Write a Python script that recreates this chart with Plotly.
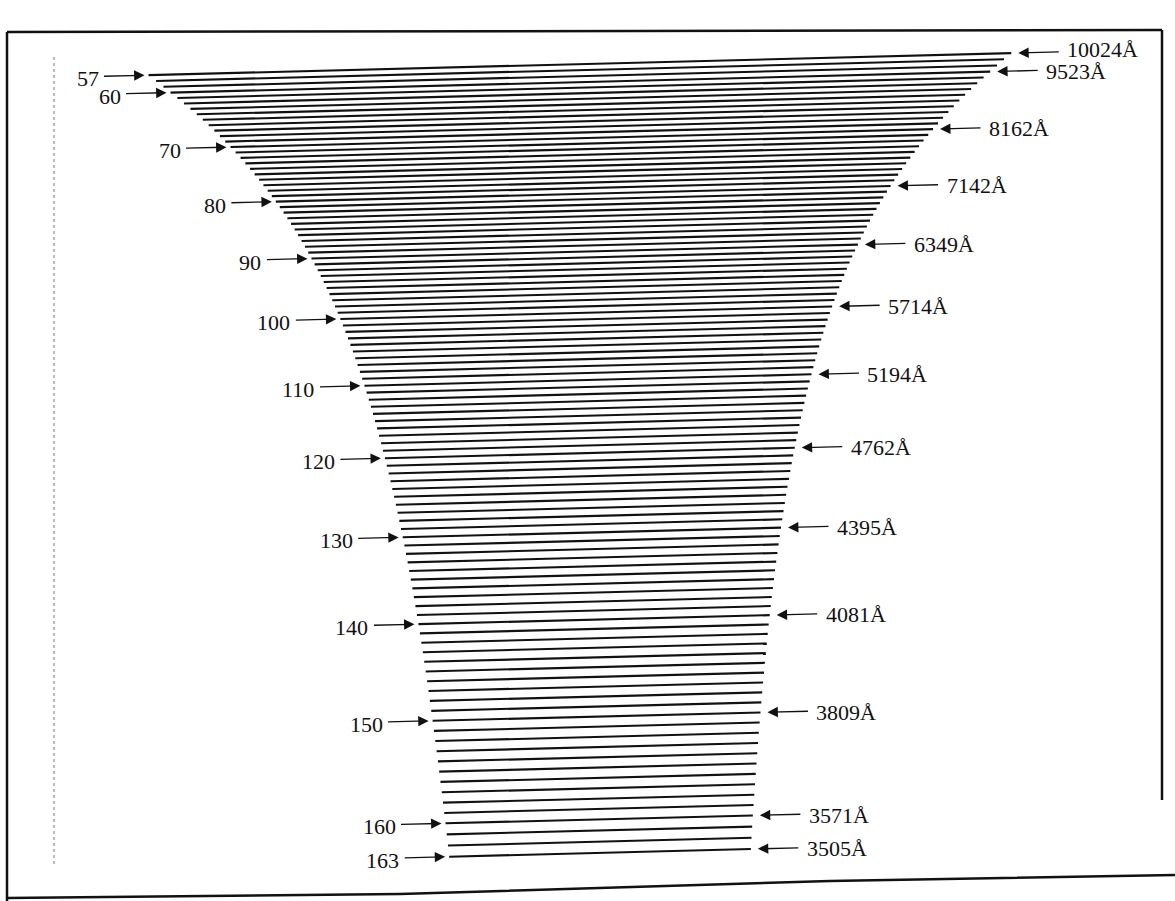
import math
import plotly.graph_objects as go

# ---------------- data ----------------
# echelle orders shown in the format diagram
orders = list(range(57, 164))
# cross-dispersion position of each order (one per order)
order_cross_position = [
    64.0, 70.0, 76.0, 82.0,
    87.6, 93.2, 98.8, 104.4, 110.0, 115.6, 121.2, 126.8, 132.4, 138.0,
    143.6, 149.1, 154.7, 160.3, 165.9, 171.4, 177.0, 182.6, 188.1, 193.7,
    199.3, 204.9, 210.6, 216.3, 222.0, 227.8, 233.7, 239.6, 245.5, 251.5,
    257.4, 263.3, 269.2, 275.3, 281.4, 287.5, 293.7, 300.0, 306.3, 312.7,
    319.2, 325.7, 332.2, 338.8, 345.5, 352.3, 359.1, 366.0, 372.9, 380.0,
    387.0, 394.1, 401.2, 408.4, 415.7, 423.0, 430.4, 437.9, 445.4, 453.0,
    460.6, 468.3, 476.1, 483.9, 491.8, 499.8, 507.9, 516.0, 524.2, 532.5,
    540.8, 549.2, 557.7, 566.3, 575.0, 583.8, 592.6, 601.6, 610.6, 619.7,
    629.0, 638.4, 647.9, 657.5, 667.2, 677.0, 686.8, 696.7, 706.7, 716.7,
    726.8, 737.0, 747.2, 757.4, 767.7, 778.0, 788.4, 798.8, 809.1, 819.5,
    830.6, 841.8, 853.0,
]
# labelled orders and their central wavelengths (Angstrom)
label_orders = [57, 60, 70, 80, 90, 100, 110, 120, 130, 140, 150, 160, 163]
label_wavelengths = [10024, 9523, 8162, 7142, 6349, 5714, 5194, 4762, 4395, 4081, 3809, 3571, 3505]

# grating constant m*lambda (Angstrom), from the labels (57 x 10024)
M_LAMBDA = 57 * 10024

# ---------------- geometry / style ----------------
CENTER_X = 590.0
PX_PER_A = 0.0861          # length of one order per Angstrom of central wavelength
PIVOT = (590.0, 460.0)
SIN_T = 0.0255             # slight tilt of the scanned drawing
COS_T = math.sqrt(1 - SIN_T ** 2)
INK = "#111111"
FONT = dict(family="Liberation Serif, Times New Roman, serif", size=22, color=INK)
RIGHT_LABEL_DY = {57: -3.5}   # first wavelength label sits a little higher


def rot(x, y):
    dx, dy = x - PIVOT[0], y - PIVOT[1]
    return (PIVOT[0] + dx * COS_T + dy * SIN_T,
            PIVOT[1] - dx * SIN_T + dy * COS_T)


def order_ends(m):
    half = PX_PER_A * (M_LAMBDA / m) / 2.0
    return CENTER_X - half, CENTER_X + half


fig = go.Figure()

xs, ys = [], []
for m, y in zip(orders, order_cross_position):
    xl, xr = order_ends(m)
    p1 = rot(xl, y)
    p2 = rot(xr, y)
    xs += [p1[0], p2[0], None]
    ys += [p1[1], p2[1], None]

fig.add_trace(go.Scatter(x=xs, y=ys, mode="lines",
                         line=dict(color=INK, width=2.1),
                         hoverinfo="skip", showlegend=False))

pos = dict(zip(orders, order_cross_position))
annotations = []
for m, wl in zip(label_orders, label_wavelengths):
    y = pos[m]
    xl, xr = order_ends(m)
    # left arrow + order number
    tip = rot(xl - 4, y)
    tail = rot(xl - 46, y)
    annotations.append(dict(x=tip[0], y=tip[1], ax=tail[0], ay=tail[1],
                            xref="x", yref="y", axref="x", ayref="y",
                            text="", showarrow=True, arrowhead=2, arrowsize=1.6,
                            arrowwidth=1.3, arrowcolor=INK, standoff=0, startstandoff=0))
    annotations.append(dict(x=tail[0] - 2, y=tail[1] + 2.5, xref="x", yref="y",
                            text=str(m), showarrow=False, xanchor="right",
                            yanchor="middle", font=FONT))
    # right arrow + wavelength
    tip = rot(xr + 7, y)
    tail = rot(xr + 49, y)
    annotations.append(dict(x=tip[0], y=tip[1], ax=tail[0], ay=tail[1],
                            xref="x", yref="y", axref="x", ayref="y",
                            text="", showarrow=True, arrowhead=2, arrowsize=1.6,
                            arrowwidth=1.3, arrowcolor=INK, standoff=0, startstandoff=0))
    annotations.append(dict(x=tail[0] + 5, y=tail[1] + 1 + RIGHT_LABEL_DY.get(m, 0),
                            xref="x", yref="y",
                            text=f"{wl}Å", showarrow=False, xanchor="left",
                            yanchor="middle", font=FONT))

shapes = [
    # outer frame
    dict(type="line", x0=7, y0=32, x1=1162, y1=30, line=dict(color=INK, width=2.5)),
    dict(type="line", x0=7, y0=32, x1=7, y1=901, line=dict(color=INK, width=2.5)),
    dict(type="line", x0=1162, y0=30, x1=1162, y1=800, line=dict(color=INK, width=2.5)),
    dict(type="path", path="M 7 898 L 400 894 L 830 881 L 1175 875",
         line=dict(color=INK, width=2.5)),
    # faint inner margin line
    dict(type="line", x0=54, y0=57, x1=54, y1=865,
         line=dict(color="#777777", width=1, dash="dot")),
]

fig.update_layout(
    width=1175, height=901, autosize=False,
    margin=dict(l=0, r=0, t=0, b=0),
    paper_bgcolor="white", plot_bgcolor="white",
    xaxis=dict(range=[0, 1175], visible=False, fixedrange=True),
    yaxis=dict(range=[901, 0], visible=False, fixedrange=True),
    annotations=annotations, shapes=shapes,
    showlegend=False,
)

fig.write_html("out.html",
               config={"displayModeBar": False, "staticPlot": True},
               post_script="document.body.style.margin='0';document.body.style.overflow='hidden';")
